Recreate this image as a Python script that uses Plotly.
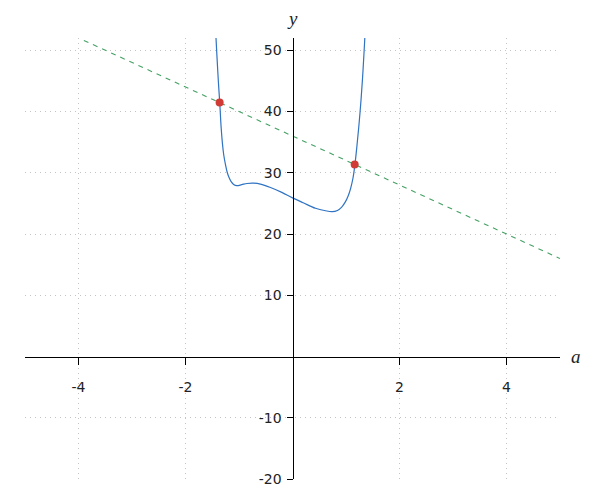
import plotly.graph_objects as go

# Curve points
curve_x = [-1.430, -1.412, -1.385, -1.359, -1.333, -1.310, -1.285, -1.252, -1.218, -1.190,
           -1.150, -1.100, -1.040, -0.950, -0.850, -0.720, -0.600, -0.411, -0.200, 0.000,
           0.200, 0.430, 0.617, 0.740, 0.840, 0.920, 0.985, 1.040, 1.088, 1.130, 1.165,
           1.200, 1.240, 1.280, 1.310, 1.335, 1.352]
curve_y = [52.0, 49.0, 44.8, 41.3, 37.3, 34.8, 32.9, 31.3, 30.0, 29.3,
           28.6, 28.1, 27.9, 28.05, 28.25, 28.3, 28.15, 27.6, 26.8, 25.9,
           25.1, 24.2, 23.8, 23.65, 23.85, 24.4, 25.2, 26.2, 27.5, 29.1, 31.2,
           34.0, 37.6, 41.8, 45.6, 49.3, 52.0]

# Straight dashed line endpoints
line_x = [-3.9, 5]
line_y = [51.6, 16]

# Intersection points
pts_x = [-1.362, 1.162]
pts_y = [41.45, 31.35]

x_ticks = [-4, -2, 2, 4]
y_ticks = [-20, -10, 10, 20, 30, 40, 50]

x_range = [-5, 5]
y_range = [-20, 52]

fig = go.Figure()
fig.add_trace(go.Scatter(x=line_x, y=line_y, mode="lines",
                         line=dict(color="#45a165", width=1.1, dash="5px,5px"),
                         hoverinfo="skip"))
fig.add_trace(go.Scatter(x=curve_x, y=curve_y, mode="lines",
                         line=dict(color="#2f73c2", width=1.2, shape="spline", smoothing=1.0)))
fig.add_trace(go.Scatter(x=pts_x, y=pts_y, mode="markers",
                         marker=dict(color="#d03b36", size=8)))

x_pos = (0 - y_range[0]) / (y_range[1] - y_range[0])
y_pos = (0 - x_range[0]) / (x_range[1] - x_range[0])

fig.update_layout(
    width=592, height=492,
    margin=dict(l=17, r=40, t=30, b=21, autoexpand=False),
    paper_bgcolor="white", plot_bgcolor="white",
    showlegend=False,
    font=dict(family="DejaVu Sans", size=14, color="#222"),
    xaxis=dict(range=x_range, tickvals=x_ticks, ticktext=[str(v) for v in x_ticks],
               showgrid=True, gridcolor="#c4c4c4", griddash="1px,4px", gridwidth=1,
               zeroline=False, showline=True, linecolor="black", linewidth=1,
               ticks="outside", ticklen=7, tickcolor="black", automargin=False,
               anchor="free", position=x_pos, ticklabelstandoff=11,
               tickfont=dict(size=14)),
    yaxis=dict(range=y_range, tickvals=y_ticks, ticktext=[str(v) for v in y_ticks],
               showgrid=True, gridcolor="#c4c4c4", griddash="1px,4px", gridwidth=1,
               zeroline=False, showline=True, linecolor="black", linewidth=1,
               ticks="outside", ticklen=6, tickcolor="black", automargin=False,
               anchor="free", position=y_pos, ticklabelstandoff=2,
               tickfont=dict(size=14)),
    annotations=[
        dict(x=0, y=1, xref="x", yref="paper", text="y", showarrow=False,
             yanchor="bottom", yshift=7,
             font=dict(family="Liberation Serif", size=19, color="#222", style="italic")),
        dict(x=1, y=0, xref="paper", yref="y", text="a", showarrow=False,
             xanchor="left", xshift=9,
             font=dict(family="Liberation Serif", size=19, color="#222", style="italic")),
    ],
)

fig.write_html("out.html")
